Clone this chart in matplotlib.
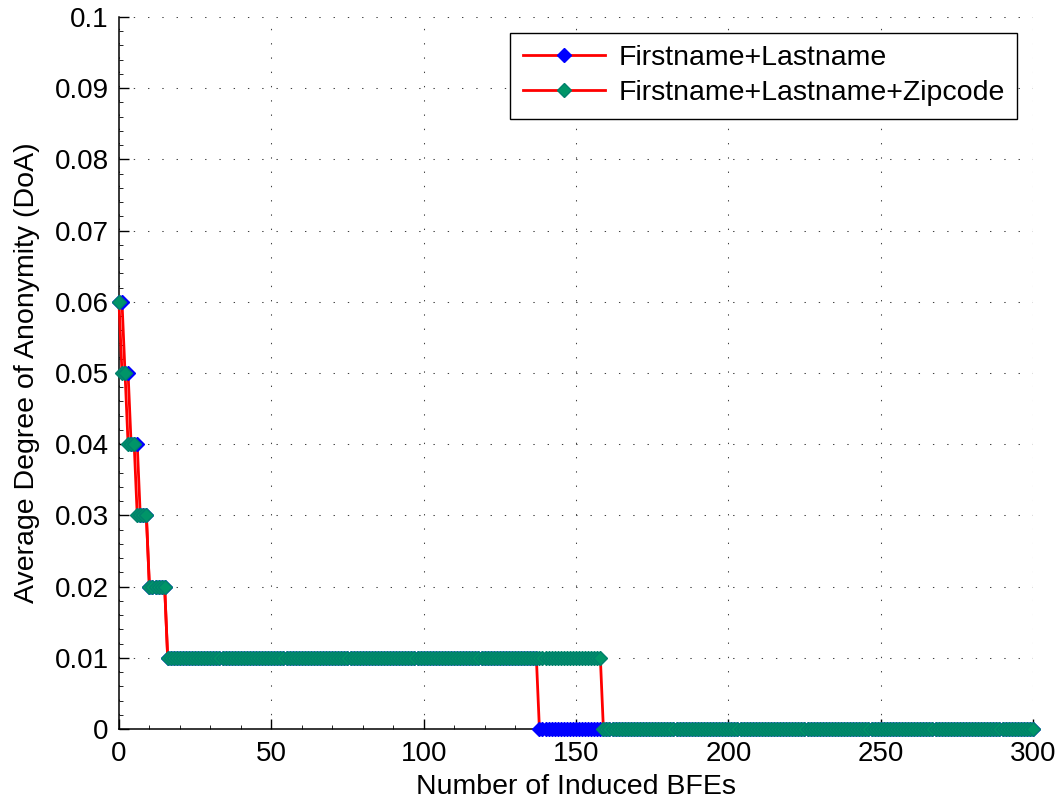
import numpy as np
import matplotlib
matplotlib.use('Agg')
import matplotlib.pyplot as plt
from matplotlib.ticker import MultipleLocator

# step levels of the DoA curves and how many consecutive BFE counts stay on each level
levels = [0.06, 0.05, 0.04, 0.03, 0.02, 0.01, 0.0]
fl_runs = [2, 2, 3, 3, 6, 122, 163]     # Firstname+Lastname
flz_runs = [1, 2, 3, 4, 6, 143, 142]    # Firstname+Lastname+Zipcode

x_ticks = [0, 50, 100, 150, 200, 250, 300]
y_ticks = [0, 0.01, 0.02, 0.03, 0.04, 0.05, 0.06, 0.07, 0.08, 0.09, 0.1]
y_tick_labels = ['0', '0.01', '0.02', '0.03', '0.04', '0.05', '0.06', '0.07', '0.08', '0.09', '0.1']

fl_y = np.repeat(levels, fl_runs)
flz_y = np.repeat(levels, flz_runs)
fl_x = np.arange(len(fl_y))
flz_x = np.arange(len(flz_y))

plt.rcParams['font.family'] = ['Liberation Sans', 'DejaVu Sans']
plt.rcParams['font.size'] = 20

fig = plt.figure(figsize=(10.62, 8.01), dpi=100)
ax = fig.add_axes([0.112, 0.0899, 0.8607, 0.8889])

ax.plot(fl_x, fl_y, color='red', lw=2.0, marker='D', ms=7.0,
        mfc='#0000ff', mec='#0000ff', mew=1, clip_on=False, zorder=3,
        label='Firstname+Lastname')
ax.plot(flz_x, flz_y, color='red', lw=2.0, marker='D', ms=7.0,
        mfc='#009568', mec='#00806c', mew=1, clip_on=False, zorder=4,
        label='Firstname+Lastname+Zipcode')

ax.set_xlim(0, 300)
ax.set_ylim(0, 0.1)
ax.set_xticks(x_ticks)
ax.set_yticks(y_ticks)
ax.set_yticklabels(y_tick_labels)
ax.xaxis.set_minor_locator(MultipleLocator(10))
ax.yaxis.set_minor_locator(MultipleLocator(0.002))
ax.tick_params(which='major', direction='in', length=7, width=1, pad=7.5, labelsize=20)
ax.tick_params(axis='x', which='major', pad=8.5)
ax.tick_params(which='minor', direction='in', length=3, width=0.6)

ax.spines['top'].set_visible(False)
ax.spines['right'].set_visible(False)
ax.spines['left'].set_linewidth(1.1)
ax.spines['bottom'].set_linewidth(1.1)

ax.grid(True, which='major', color='0.25', linestyle=(0, (1.3, 12.4)), linewidth=0.75)
ax.set_axisbelow(True)

ax.set_xlabel('Number of Induced BFEs', fontsize=20.5, labelpad=5)
ax.set_ylabel('Average Degree of Anonymity (DoA)', fontsize=20.5, labelpad=10.5)

leg = ax.legend(loc='upper right', borderaxespad=0.55, fancybox=False,
                edgecolor='black', framealpha=1, handlelength=2.9,
                handletextpad=0.45, labelspacing=0.3, borderpad=0.45,
                fontsize=20.5)
leg.get_frame().set_linewidth(1.0)

plt.savefig('out.png', dpi=100)
plt.close(fig)
